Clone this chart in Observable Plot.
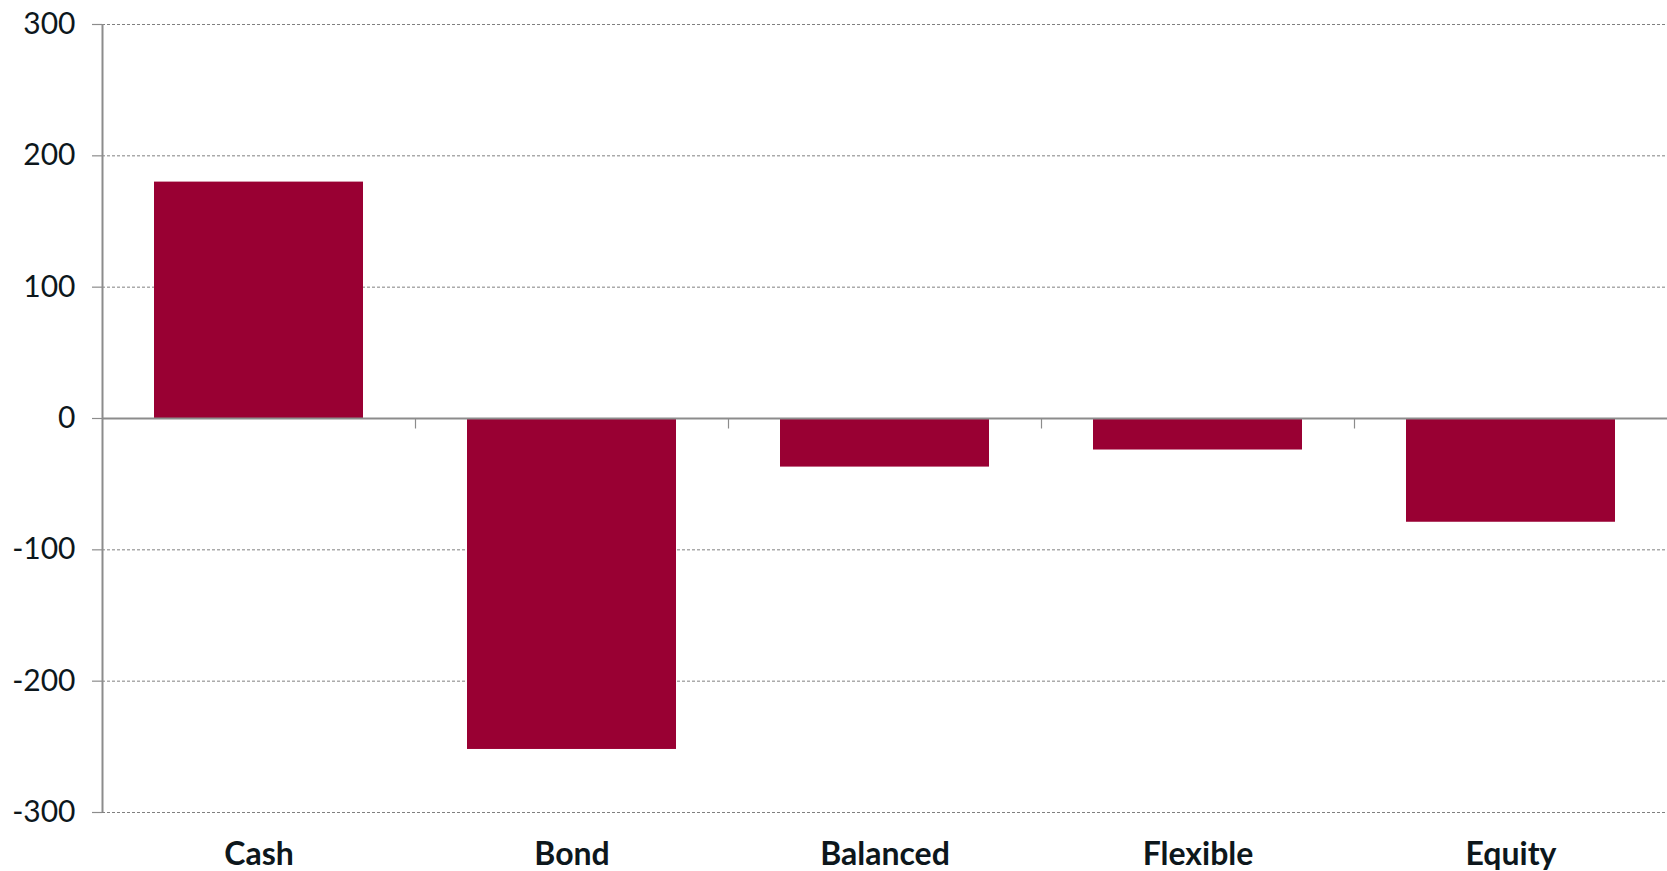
<!DOCTYPE html>
<html>
<head>
<meta charset="utf-8">
<script src="https://cdn.jsdelivr.net/npm/d3@7"></script>
<script src="https://cdn.jsdelivr.net/npm/@observablehq/plot@0.6"></script>
<style>
  html, body { margin: 0; padding: 0; background: #fff; }
  #chart svg { display: block; }
</style>
</head>
<body>
<div id="chart"></div>
<script>
const categories = ["Cash", "Bond", "Balanced", "Flexible", "Equity"];
const values = [180, -252, -37, -24, -79];
const yTicks = [-300, -200, -100, 0, 100, 200, 300];

const data = categories.map((c, i) => ({category: c, value: values[i]}));

const W = 1667, H = 871;
const mL = 102, mR = 0, mT = 24, mB = 59;
const step = (W - mL - mR) / categories.length;
const grey = "#8c8c8c";
const ink = "#0d171c";

const chart = Plot.plot({
  width: W,
  height: H,
  marginLeft: mL,
  marginRight: mR,
  marginTop: mT,
  marginBottom: mB,
  style: {fontFamily: "Lato, sans-serif", background: "#fff", overflow: "visible"},
  x: {domain: categories, paddingInner: 1/3, paddingOuter: 1/6},
  y: {domain: [-300, 300]},
  marks: [
    Plot.gridY(yTicks.filter(d => d !== 0), {stroke: "#808080", strokeOpacity: 1, strokeWidth: 1, strokeDasharray: "3,2"}),
    Plot.axisY(yTicks, {tickSize: 10, tickPadding: 17, stroke: grey, strokeWidth: 1.2, fontSize: 30, fill: ink, label: null, tickFormat: d => String(d)}),
    Plot.axisX({tickSize: 0, tickPadding: 30, fontSize: 32, fontWeight: "bold", fill: ink, label: null}),
    Plot.barY(data, {x: "category", y: "value", fill: "#990033"}),
    Plot.ruleY([0], {stroke: grey, strokeWidth: 2}),
    Plot.ruleX([categories[0]], {x: d => d, y1: -300, y2: 300, dx: -step / 2, stroke: grey, strokeWidth: 2}),
    Plot.ruleX(categories.slice(1), {x: d => d, y1: 0, y2: -8, dx: -step / 2, stroke: grey, strokeWidth: 1.2})
  ]
});
document.getElementById("chart").appendChild(chart);
</script>
</body>
</html>
